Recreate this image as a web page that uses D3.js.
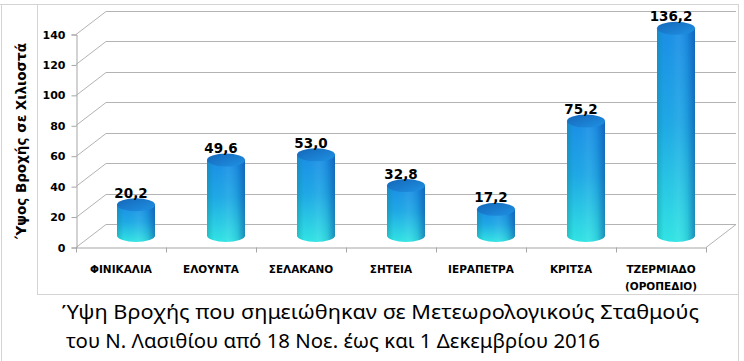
<!DOCTYPE html>
<html>
<head>
<meta charset="utf-8">
<script src="https://cdn.jsdelivr.net/npm/d3@7"></script>
<style>
html,body{margin:0;padding:0;background:#fff;}
svg{display:block;}
</style>
</head>
<body>
<svg id="chart" width="744" height="361"></svg>
<script>
const categories = ["ΦΙΝΙΚΑΛΙΑ","ΕΛΟΥΝΤΑ","ΣΕΛΑΚΑΝΟ","ΣΗΤΕΙΑ","ΙΕΡΑΠΕΤΡΑ","ΚΡΙΤΣΑ","ΤΖΕΡΜΙΑΔΟ (ΟΡΟΠΕΔΙΟ)"];
const categoryLines = [["ΦΙΝΙΚΑΛΙΑ"],["ΕΛΟΥΝΤΑ"],["ΣΕΛΑΚΑΝΟ"],["ΣΗΤΕΙΑ"],["ΙΕΡΑΠΕΤΡΑ"],["ΚΡΙΤΣΑ"],["ΤΖΕΡΜΙΑΔΟ","(ΟΡΟΠΕΔΙΟ)"]];
const values = [20.2, 49.6, 53.0, 32.8, 17.2, 75.2, 136.2];
const yTicks = [0, 20, 40, 60, 80, 100, 120, 140];
const yTitle = "Ύψος Βροχής σε Χιλιοστά";
const titleLines = ["Ύψη Βροχής που σημειώθηκαν σε Μετεωρολογικούς Σταθμούς", "του Ν. Λασιθίου από 18 Νοε. έως και 1 Δεκεμβρίου  2016"];

const svg = d3.select("#chart");
const defs = svg.append("defs");

// frame
const frame = svg.append("g").attr("stroke", "#d4d4d4").attr("stroke-width", 1).attr("fill", "none");
frame.append("line").attr("x1", 0).attr("x2", 739).attr("y1", 4.5).attr("y2", 4.5);
frame.append("line").attr("x1", 1.5).attr("x2", 1.5).attr("y1", 4).attr("y2", 361);
frame.append("line").attr("x1", 738.5).attr("x2", 738.5).attr("y1", 4).attr("y2", 361);
frame.append("line").attr("x1", 37.5).attr("x2", 37.5).attr("y1", 4).attr("y2", 294.5);
frame.append("line").attr("x1", 37).attr("x2", 739).attr("y1", 294.5).attr("y2", 294.5);

// scales
const x = d3.scaleBand().domain(categories).range([76, 706]).padding(0);
const y = d3.scaleLinear().domain([0, 140]).range([247, 34]);
const DX = 30, DY = -23;
const xRight = 706;

// gridlines + side wall
const grid = svg.append("g").attr("stroke", "#b3b3b3").attr("stroke-width", 1).attr("fill", "none");
yTicks.forEach(t => {
  const yy = Math.round(y(t)) + 0.5;
  grid.append("polyline").attr("points", `76,${yy} ${76 + DX},${yy + DY} ${xRight + DX},${yy + DY}`);
});
grid.append("line").attr("x1", xRight).attr("y1", Math.round(y(0)) + 0.5).attr("x2", xRight + DX).attr("y2", Math.round(y(0)) + 0.5 + DY);

// y axis (front)
const yAxis = d3.axisLeft(y).tickValues(yTicks).tickSize(5).tickPadding(6).tickFormat(d3.format("d"));
const gy = svg.append("g").attr("transform", "translate(76.5,0.5)").call(yAxis);
gy.select(".domain").attr("stroke", "#a6a6a6");
gy.selectAll(".tick line").attr("stroke", "#a6a6a6");
gy.selectAll(".tick text").attr("font-family", "DejaVu Sans, sans-serif").attr("font-weight", "bold").attr("font-size", 11).attr("fill", "#000");

// x axis (front)
const xAxis = d3.axisBottom(x).tickSize(0).tickFormat("");
const gx = svg.append("g").attr("transform", `translate(0,${Math.round(y(0)) + 0.5})`).call(xAxis);
gx.select(".domain").attr("stroke", "#a6a6a6");
const bounds = categories.map(c => x(c)).concat([x(categories[categories.length - 1]) + x.bandwidth()]);
gx.selectAll("line.bnd").data(bounds).enter().append("line")
  .attr("x1", d => Math.round(d) + 0.5).attr("x2", d => Math.round(d) + 0.5)
  .attr("y1", 0).attr("y2", 5).attr("stroke", "#a6a6a6");

// category labels
const catG = svg.append("g").attr("font-family", "DejaVu Sans, sans-serif").attr("font-weight", "bold").attr("font-size", 10.5).attr("text-anchor", "middle").attr("fill", "#000");
categories.forEach((c, i) => {
  const t = catG.append("text").attr("x", x(c) + x.bandwidth() / 2).attr("y", 273);
  categoryLines[i].forEach((ln, j) => {
    t.append("tspan").attr("x", x(c) + x.bandwidth() / 2).attr("dy", j === 0 ? 0 : 17).text(ln);
  });
});

// gradients
const gBody = defs.append("linearGradient").attr("id", "gBody").attr("x1", 0).attr("y1", 0).attr("x2", 0).attr("y2", 1);
[["0%", "#1b8ee6"], ["45%", "#1fa8e6"], ["100%", "#32e4e4"]].forEach(s => gBody.append("stop").attr("offset", s[0]).attr("stop-color", s[1]));
const gShade = defs.append("linearGradient").attr("id", "gShade").attr("x1", 0).attr("y1", 0).attr("x2", 1).attr("y2", 0);
[["0%", "#0a8a8a", 0.35], ["18%", "#0a8a8a", 0.0], ["55%", "#ffffff", 0.06], ["80%", "#0a3a90", 0.12], ["100%", "#0a3a90", 0.5]].forEach(s => gShade.append("stop").attr("offset", s[0]).attr("stop-color", s[1]).attr("stop-opacity", s[2]));
const gTop = defs.append("linearGradient").attr("id", "gTop").attr("x1", 0).attr("y1", 0).attr("x2", 1).attr("y2", 1);
[["0%", "#1566b8"], ["100%", "#1f92e4"]].forEach(s => gTop.append("stop").attr("offset", s[0]).attr("stop-color", s[1]));

// bars (cylinders at mid-depth)
const R = 19, RY = 6.5;
const bars = svg.append("g");
values.forEach((v, i) => {
  const cx = x(categories[i]) + x.bandwidth() / 2 + DX / 2;
  const yb = y(0) + DY / 2;
  const yt = y(v) + DY / 2;
  const d = `M${cx - R},${yt} L${cx - R},${yb} A${R},${RY} 0 0 0 ${cx + R},${yb} L${cx + R},${yt} Z`;
  bars.append("path").attr("d", d).attr("fill", "url(#gBody)");
  bars.append("path").attr("d", d).attr("fill", "url(#gShade)");
  bars.append("ellipse").attr("cx", cx).attr("cy", yt).attr("rx", R).attr("ry", RY).attr("fill", "url(#gTop)");
  bars.append("text").attr("x", cx - 5).attr("y", yt - 7)
    .attr("text-anchor", "middle").attr("font-family", "DejaVu Sans, sans-serif").attr("font-weight", "bold").attr("font-size", 13.5).attr("fill", "#000")
    .text(d3.format(".1f")(v).replace(".", ","));
});

// y title
svg.append("text").attr("transform", "translate(26,141) rotate(-90)").attr("text-anchor", "middle")
  .attr("font-family", "DejaVu Sans, sans-serif").attr("font-weight", "bold").attr("font-size", 13.5)
  .attr("textLength", 196).attr("lengthAdjust", "spacingAndGlyphs").attr("fill", "#000").text(yTitle);

// chart title (below)
const tg = svg.append("g").attr("font-family", "Noto Sans, sans-serif").attr("font-size", 20.5).attr("fill", "#000");
tg.append("text").attr("x", 62).attr("y", 319).attr("textLength", 637).attr("lengthAdjust", "spacingAndGlyphs").text(titleLines[0]);
tg.append("text").attr("x", 66).attr("y", 348).attr("textLength", 534).attr("lengthAdjust", "spacingAndGlyphs").text(titleLines[1]);
</script>
</body>
</html>
